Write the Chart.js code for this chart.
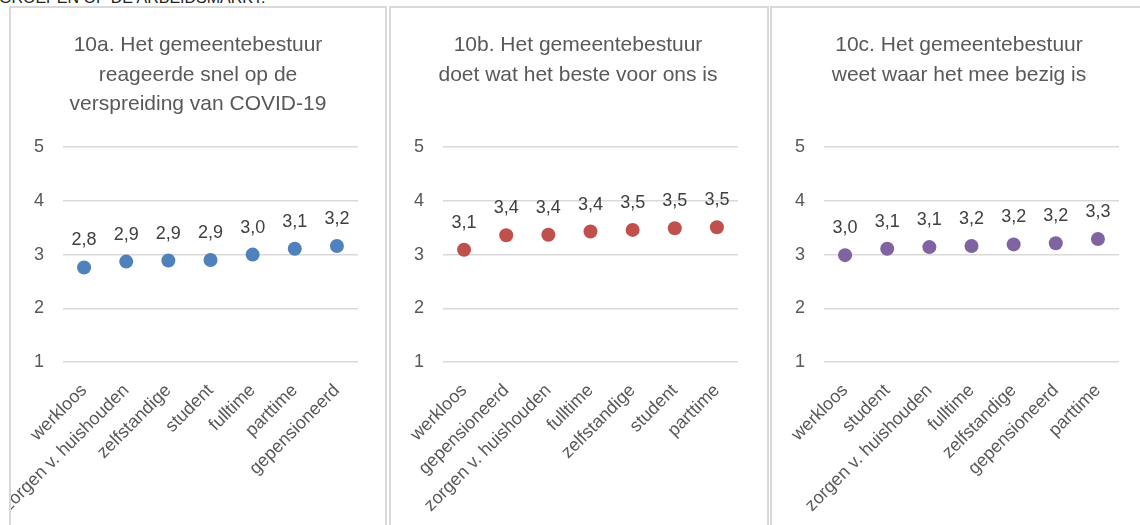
<!DOCTYPE html>
<html>
<head>
<meta charset="utf-8">
<script src="https://cdn.jsdelivr.net/npm/chart.js@4.4.1/dist/chart.umd.min.js"></script>
<style>
  body { margin: 0; width: 1140px; height: 525px; overflow: hidden; background: #fff; position: relative;
         font-family: "Liberation Sans", Arial, sans-serif; }
  .kop { position: absolute; left: -1px; top: -10px; font-size: 16px; line-height: 16px; color: #222; white-space: nowrap; }
  .panel { position: absolute; top: 6px; height: 540px; border: 2px solid #d9d9d9; border-bottom: none;
           box-sizing: border-box; background: #fff; }
  .panel canvas { display: block; }
</style>
</head>
<body>
<div class="kop">GROEPEN OP DE ARBEIDSMARKT.</div>
<div class="panel" style="left:9px;width:378px"><canvas id="chart-a" width="374" height="517"></canvas></div>
<div class="panel" style="left:389px;width:380px"><canvas id="chart-b" width="374" height="517"></canvas></div>
<div class="panel" style="left:770px;width:380px"><canvas id="chart-c" width="374" height="517"></canvas></div>

<script>
// --- data ---
var titelA = ['10a. Het gemeentebestuur', 'reageerde snel op de', 'verspreiding van COVID-19'];
var groepenA = ['werkloos', 'zorgen v. huishouden', 'zelfstandige', 'student', 'fulltime', 'parttime', 'gepensioneerd'];
var scoresA = [2.76, 2.87, 2.89, 2.90, 3.00, 3.11, 3.16];

var titelB = ['10b. Het gemeentebestuur', 'doet wat het beste voor ons is', ''];
var groepenB = ['werkloos', 'gepensioneerd', 'zorgen v. huishouden', 'fulltime', 'zelfstandige', 'student', 'parttime'];
var scoresB = [3.09, 3.36, 3.37, 3.43, 3.46, 3.49, 3.51];

var titelC = ['10c. Het gemeentebestuur', 'weet waar het mee bezig is', ''];
var groepenC = ['werkloos', 'student', 'zorgen v. huishouden', 'fulltime', 'zelfstandige', 'gepensioneerd', 'parttime'];
var scoresC = [2.99, 3.11, 3.14, 3.16, 3.19, 3.21, 3.29];

var schaal = [1, 2, 3, 4, 5];

Chart.defaults.font.family = '"Liberation Sans", Arial, sans-serif';

// waarde boven elk punt, met komma
var waardeLabels = {
  id: 'waardeLabels',
  afterDatasetsDraw: function(chart) {
    var ctx = chart.ctx;
    var scores = chart.data.datasets[0].data;
    ctx.save();
    ctx.font = '18px "Liberation Sans", Arial, sans-serif';
    ctx.fillStyle = '#404040';
    ctx.textAlign = 'center';
    ctx.textBaseline = 'alphabetic';
    chart.getDatasetMeta(0).data.forEach(function(pt, i) {
      ctx.fillText(scores[i].toFixed(1).replace('.', ','), pt.x, pt.y - 22);
    });
    ctx.restore();
  }
};

function maakGrafiek(id, titel, groepen, scores, kleur) {
  return new Chart(document.getElementById(id), {
    type: 'line',
    data: {
      labels: groepen,
      datasets: [{
        data: scores,
        showLine: false,
        pointRadius: 7,
        pointHoverRadius: 7,
        pointBackgroundColor: kleur,
        pointBorderWidth: 0
      }]
    },
    options: {
      responsive: false,
      animation: false,
      devicePixelRatio: 1,
      layout: { padding: 0 },
      plugins: {
        legend: { display: false },
        tooltip: { enabled: false },
        title: {
          display: true,
          text: titel,
          color: '#595959',
          font: { size: 21, weight: 'normal', lineHeight: 1.4 },
          padding: { top: 23, bottom: 28 }
        }
      },
      scales: {
        x: {
          offset: true,
          grid: { display: false },
          border: { display: false },
          ticks: { color: '#595959', font: { size: 18 }, minRotation: 45, maxRotation: 45, padding: 10, autoSkip: false },
          afterFit: function(s) { s.height = 163; }
        },
        y: {
          min: schaal[0],
          max: schaal[schaal.length - 1],
          ticks: { stepSize: 1, color: '#595959', font: { size: 18 }, padding: 19 },
          grid: { color: '#d9d9d9', lineWidth: 1.5, drawTicks: false },
          border: { display: false },
          afterFit: function(s) { s.width = 52; }
        },
        // lege rechteras, alleen voor witruimte rechts van het plotvlak
        ruimte: {
          position: 'right',
          display: true,
          grid: { display: false },
          border: { display: false },
          ticks: { display: false },
          afterFit: function(s) { s.width = 27; }
        }
      }
    },
    plugins: [waardeLabels]
  });
}

maakGrafiek('chart-a', titelA, groepenA, scoresA, '#4f81bd');
maakGrafiek('chart-b', titelB, groepenB, scoresB, '#c0504d');
maakGrafiek('chart-c', titelC, groepenC, scoresC, '#8064a2');
</script>
</body>
</html>
